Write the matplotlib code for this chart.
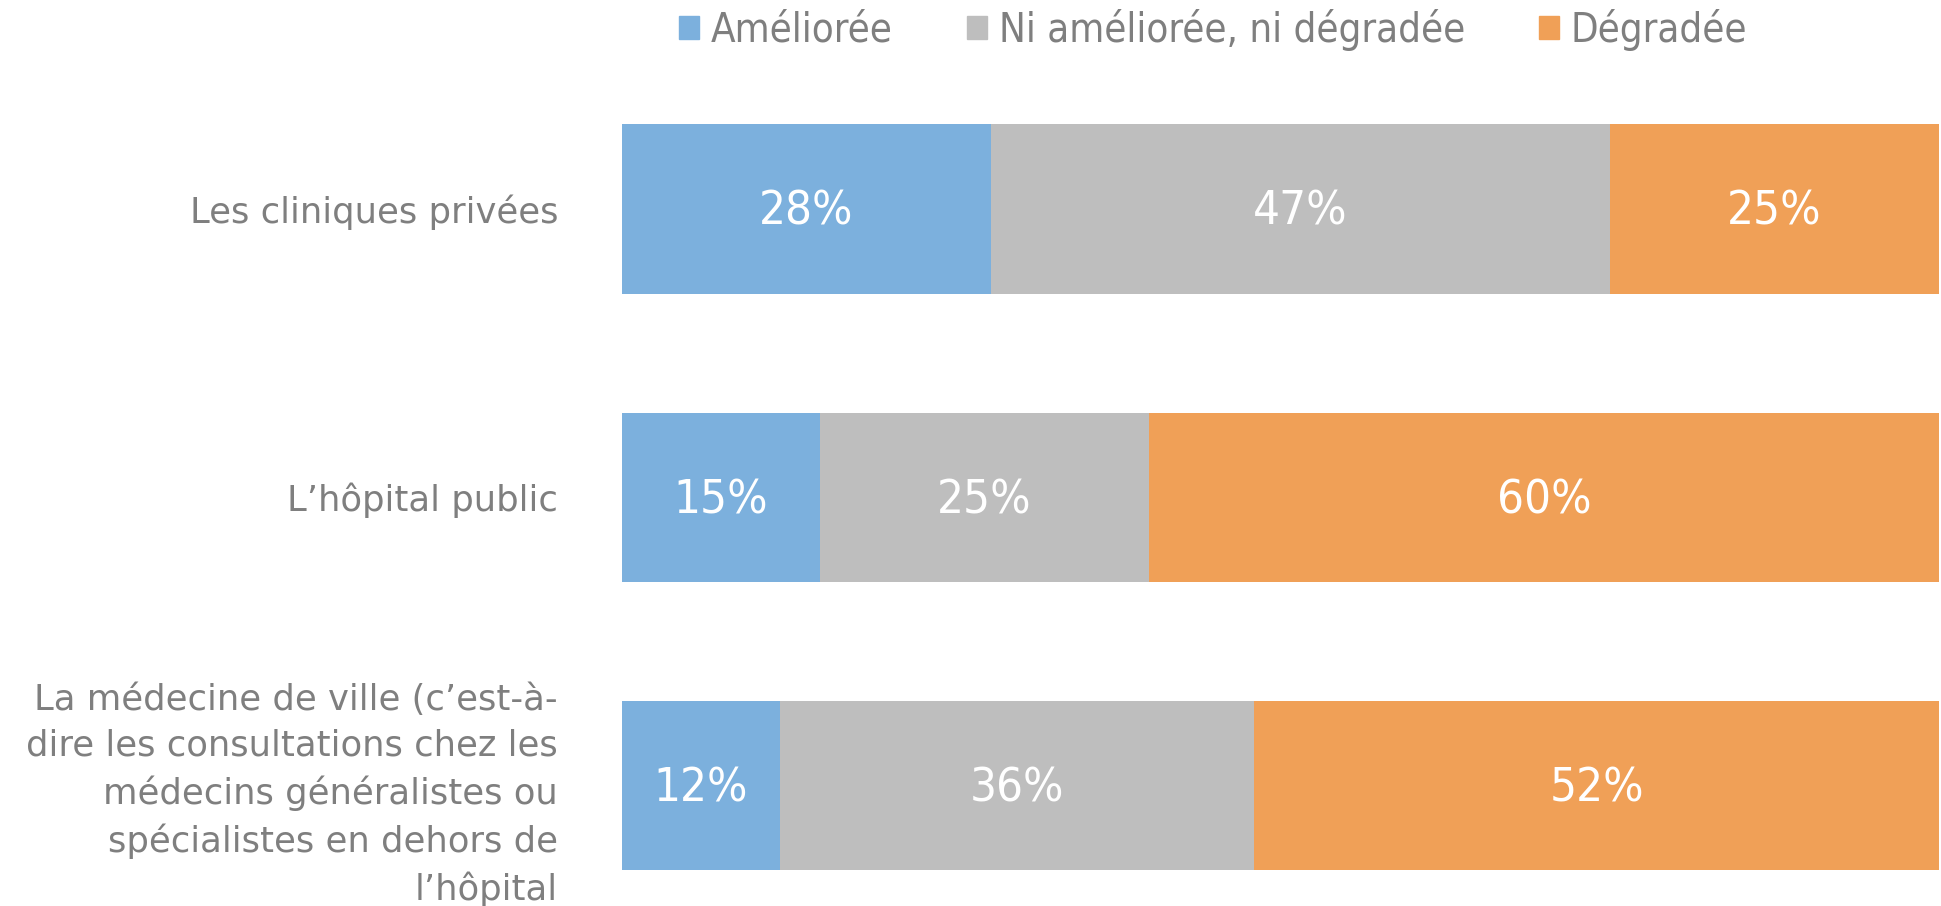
import matplotlib
matplotlib.use("Agg")
import matplotlib.pyplot as plt
from matplotlib.patches import Patch

categories = [
    "Les cliniques privées",
    "L’hôpital public",
    "La médecine de ville (c’est-à-\ndire les consultations chez les\nmédecins généralistes ou\nspécialistes en dehors de\nl’hôpital",
]
series_names = ["Améliorée", "Ni améliorée, ni dégradée", "Dégradée"]
ameliore = [28, 15, 12]
neutre = [47, 25, 36]
degrade = [25, 60, 52]
colors = ["#7CB0DD", "#BEBEBE", "#F0A057"]
text_gray = "#7F7F7F"

W, H = 1941, 906
fig = plt.figure(figsize=(W / 100, H / 100), dpi=100)
ax = fig.add_axes([622 / W, 1 - 900 / H, 1317 / W, 800 / H])

ypos = list(range(len(categories)))
left = [0] * len(categories)
for vals, name, col in zip([ameliore, neutre, degrade], series_names, colors):
    bars = ax.barh(ypos, vals, left=left, height=0.587, color=col, label=name)
    for b, v in zip(bars, vals):
        ax.annotate(f"{v}%",
                    (b.get_x() + b.get_width() / 2, b.get_y() + b.get_height() / 2),
                    xytext=(0, -2.5), textcoords="offset points",
                    ha="center", va="center", color="white",
                    fontsize=34, family="DejaVu Sans", fontstretch="condensed")
    left = [l + v for l, v in zip(left, vals)]

ax.set_xlim(0, 100)
ax.set_ylim(2.398, -0.378)
ax.set_yticks(ypos)
ax.set_yticklabels(categories, fontsize=25.5, color=text_gray, linespacing=1.44,
                   family=["DejaVu Sans"])
for t in ax.get_yticklabels():
    t.set_multialignment("right")
ax.tick_params(axis="y", length=0, pad=46)
ax.set_xticks([])
for s in ax.spines.values():
    s.set_visible(False)

handles = [Patch(color=c) for c in colors]
leg = fig.legend(handles, series_names, loc="center", ncol=3,
                 bbox_to_anchor=(1213 / W, 1 - 30 / H), frameon=False,
                 prop={"family": "DejaVu Sans", "stretch": "condensed", "size": 28.8},
                 handlelength=0.5, handleheight=0.5, handletextpad=0.3,
                 columnspacing=1.85, borderpad=0)
for t in leg.get_texts():
    t.set_color(text_gray)

fig.savefig("out.png", dpi=100)
